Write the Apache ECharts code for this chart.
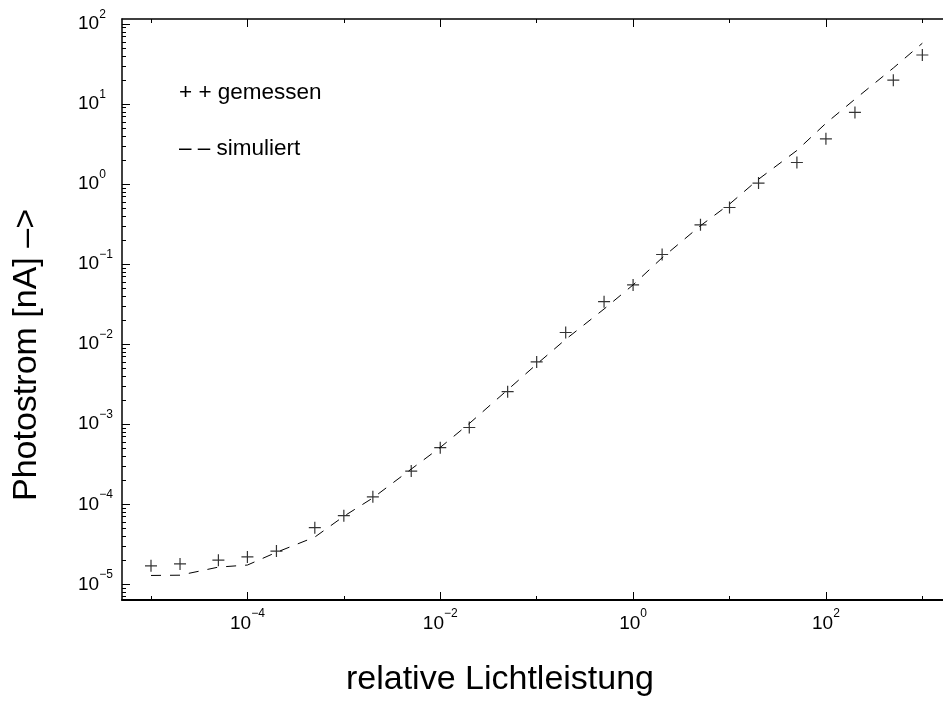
<!DOCTYPE html>
<html>
<head>
<meta charset="utf-8">
<script src="https://cdn.jsdelivr.net/npm/echarts@6/dist/echarts.min.js"></script>
<style>html,body{margin:0;padding:0;background:#fff}#c{width:943px;height:701px}</style>
</head>
<body>
<div id="c"></div>
<script>
// ---- data ----
const lightPower = [1e-5, 2e-5, 5e-5, 1e-4, 2e-4, 5e-4, 1e-3, 2e-3, 5e-3, 1e-2, 2e-2, 5e-2,
  0.1, 0.2, 0.5, 1, 2, 5, 10, 20, 50, 100, 200, 500, 1000];
const measured = [1.7e-5, 1.8e-5, 2.0e-5, 2.2e-5, 2.6e-5, 5.1e-5, 7.2e-5, 1.24e-4, 2.6e-4, 5.1e-4,
  9.1e-4, 2.55e-3, 6.0e-3, 1.40e-2, 3.4e-2, 5.5e-2, 0.132, 0.31, 0.51, 1.03, 1.86, 3.68, 7.85, 19.9, 41];
const simulated = [1.29e-5, 1.30e-5, 1.64e-5, 1.74e-5, 2.51e-5, 3.89e-5, 7.08e-5, 1.20e-4, 2.75e-4,
  5.13e-4, 1.02e-3, 2.69e-3, 5.62e-3, 1.15e-2, 2.75e-2, 5.5e-2, 0.120, 0.302, 0.562, 1.15, 2.63,
  5.75, 11.5, 28.2, 57.5];
const xLabelTicks = [1e-4, 1e-2, 1, 1e2];
const xPlainTicks = [1e-5, 1e-3, 1e-1, 1e1, 1e3];
const yDecadeTicks = [1e-5, 1e-4, 1e-3, 1e-2, 1e-1, 1, 1e1, 1e2];
const yMinorFactors = [2, 3, 4, 5, 6, 7, 8, 9];
const legendTexts = ['+ + gemessen', '\u2013 \u2013 simuliert'];
const xTitle = 'relative Lichtleistung';
const yTitle = 'Photostrom [nA] \u2013>';

// ---- axis ranges ----
const xMin = Math.pow(10, -5.3008), xMax = Math.pow(10, 3.318);
const yMin = Math.pow(10, -5.196), yMax = Math.pow(10, 2.0625);

const yMinorTicks = [];
for (let e = -6; e <= 2; e++) {
  yMinorFactors.forEach(k => {
    const v = k * Math.pow(10, e);
    if (v > yMin && v < yMax) yMinorTicks.push(v);
  });
}

const F = '"Liberation Sans", Arial, Helvetica, sans-serif';
function supLabel(v) {
  const e = Math.round(Math.log10(v));
  return '{base|10}{sup|' + (e < 0 ? '\u2212' + (-e) : String(e)) + '}';
}
const rich = {
  base: {fontSize: 19, fontFamily: F, color: '#000', verticalAlign: 'bottom'},
  sup: {fontSize: 12, fontFamily: F, color: '#000', verticalAlign: 'bottom', padding: [0, 0, 13, 0]}
};

function xAx(pos, ticks, len, line, labels) {
  return {
    type: 'log', position: pos, min: xMin, max: xMax,
    splitLine: {show: false},
    axisLine: {show: !!line, onZero: false, lineStyle: {color: '#000', width: line || 1}},
    axisTick: {show: true, inside: true, length: len, customValues: ticks, lineStyle: {color: '#000', width: 1}},
    axisLabel: labels ? {show: true, customValues: ticks, formatter: supLabel, rich: rich, margin: 8,
      fontSize: 19, fontFamily: F, color: '#000'} : {show: false}
  };
}
function yAx(ticks, len, line, labels) {
  return {
    type: 'log', position: 'left', min: yMin, max: yMax,
    splitLine: {show: false},
    axisLine: {show: !!line, onZero: false, lineStyle: {color: '#000', width: line || 1}},
    axisTick: {show: true, inside: true, length: len, customValues: ticks, lineStyle: {color: '#000', width: 1}},
    axisLabel: labels ? {show: true, customValues: ticks, formatter: supLabel, rich: rich,
      align: 'left', margin: 44, padding: [0, 0, 6, 0], fontSize: 19, fontFamily: F, color: '#000'} : {show: false}
  };
}

const chart = echarts.init(document.getElementById('c'), null, {renderer: 'canvas'});
chart.setOption({
  animation: false,
  backgroundColor: '#fff',
  grid: {left: 122, top: 19, width: 831, height: 581, containLabel: false, outerBoundsMode: 'none'},
  xAxis: [
    xAx('bottom', xLabelTicks, 8, 2, true),
    xAx('bottom', xPlainTicks, 4, 0, false),
    xAx('top', xLabelTicks, 8, 1.5, false),
    xAx('top', xPlainTicks, 4, 0, false)
  ],
  yAxis: [
    yAx(yDecadeTicks, 8, 1.5, true),
    yAx(yMinorTicks, 4, 0, false)
  ],
  series: [
    {
      type: 'line', name: 'simuliert', xAxisIndex: 0, yAxisIndex: 0,
      data: lightPower.map((x, i) => [x, simulated[i]]),
      showSymbol: false, symbol: 'none', silent: true,
      lineStyle: {color: '#000', width: 1, type: [10, 9]}
    },
    {
      type: 'scatter', name: 'gemessen', xAxisIndex: 0, yAxisIndex: 0,
      data: lightPower.map((x, i) => [x, measured[i]]),
      symbol: 'path://M5.4,0H6.6V12H5.4Z M0,5.4H12V6.6H0Z', symbolSize: 12,
      itemStyle: {color: '#000'}, silent: true
    }
  ],
  graphic: [
    {type: 'text', x: 179, y: 92.4, silent: true,
      style: {text: legendTexts[0], font: '22.5px ' + F, fill: '#000', align: 'left', verticalAlign: 'middle'}},
    {type: 'text', x: 179, y: 148.4, silent: true,
      style: {text: legendTexts[1], font: '22.5px ' + F, fill: '#000', align: 'left', verticalAlign: 'middle'}},
    {type: 'text', x: 500, y: 680, silent: true,
      style: {text: xTitle, font: '34px ' + F, fill: '#000', align: 'center', verticalAlign: 'middle'}},
    {type: 'text', x: 26.5, y: 355, rotation: Math.PI / 2, silent: true,
      style: {text: yTitle, font: '34px ' + F, fill: '#000', align: 'center', verticalAlign: 'middle'}}
  ]
});
</script>
</body>
</html>
